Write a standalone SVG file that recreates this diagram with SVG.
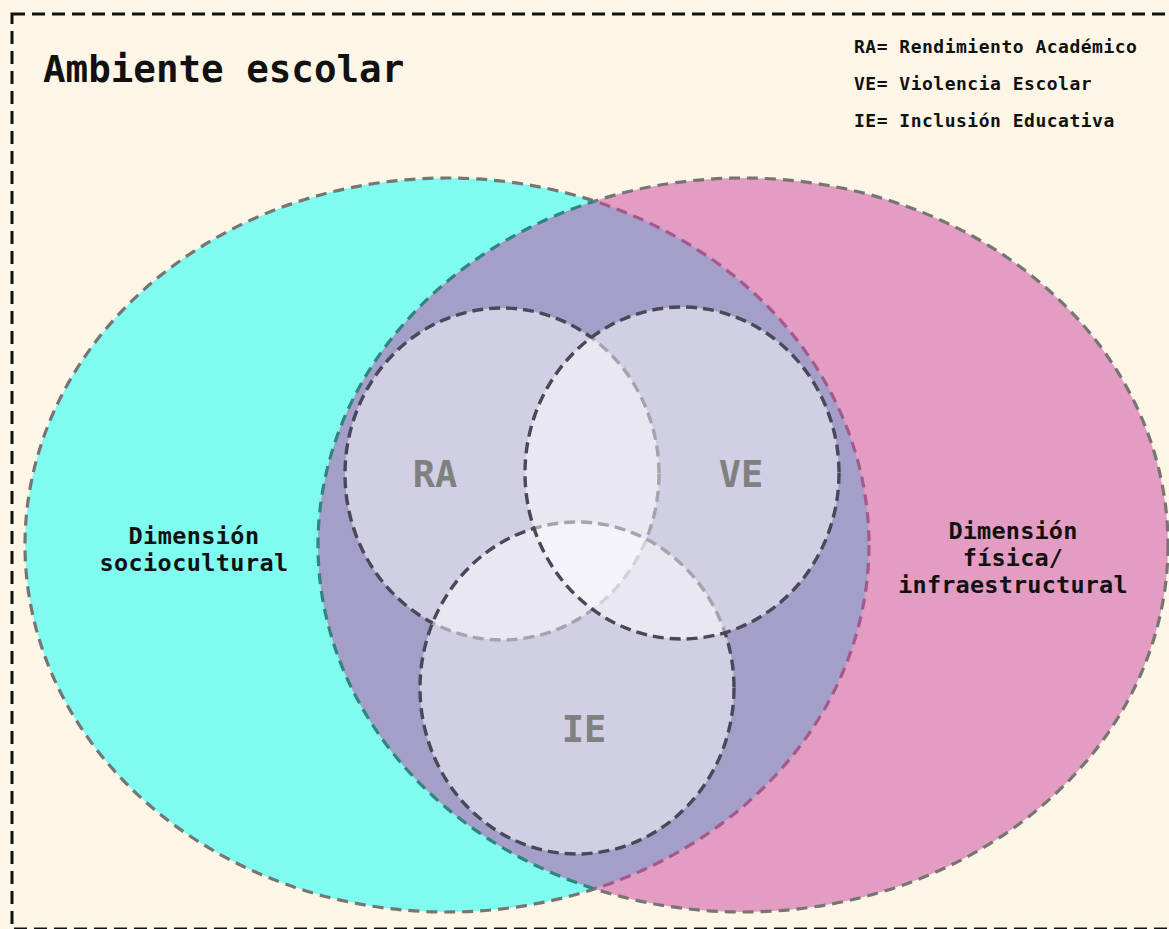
<svg xmlns="http://www.w3.org/2000/svg" width="1169" height="929" viewBox="0 0 1169 929">
<style>
.mono{font-family:"DejaVu Sans Mono","Liberation Mono",monospace;font-weight:bold;fill:#111;}
.big{stroke-width:3.2;stroke-dasharray:11 7;fill:none;}
.small{fill:#ffffff;fill-opacity:0.5;stroke:#4a4858;stroke-width:3.4;stroke-dasharray:11 6;}
.lbl{font-family:"DejaVu Sans Mono","Liberation Mono",monospace;font-weight:bold;fill:#808080;font-size:37px;text-anchor:middle;}
</style>
<defs>
<clipPath id="inPink"><ellipse cx="743" cy="545" rx="425" ry="367"/></clipPath>
<clipPath id="inCyan"><ellipse cx="447" cy="545" rx="422" ry="367"/></clipPath>
<clipPath id="outPink"><path clip-rule="evenodd" d="M-10,-10H1200V950H-10Z M318,545 a425,367 0 1,0 850,0 a425,367 0 1,0 -850,0Z"/></clipPath>
<clipPath id="outCyan"><path clip-rule="evenodd" d="M-10,-10H1200V950H-10Z M25,545 a422,367 0 1,0 844,0 a422,367 0 1,0 -844,0Z"/></clipPath>
</defs>
<rect width="1169" height="929" fill="#fdf6e7"/>
<rect x="12" y="14" width="1180" height="915" fill="none" stroke="#111" stroke-width="3" stroke-dasharray="13 7"/>
<text class="mono" x="43" y="82" font-size="37.5">Ambiente escolar</text>
<g id="legend" class="mono" font-size="18" letter-spacing="0.5">
<text x="854" y="53">RA= Rendimiento Académico</text>
<text x="854" y="90">VE= Violencia Escolar</text>
<text x="854" y="127">IE= Inclusión Educativa</text>
</g>
<g id="sociocultural">
<ellipse cx="447" cy="545" rx="422" ry="367" fill="#80fbf0"/>
</g>
<g id="fisica">
<ellipse cx="743" cy="545" rx="425" ry="367" fill="#e39cc2"/>
</g>
<g id="overlap">
<ellipse cx="447" cy="545" rx="422" ry="367" fill="#a39fc9" clip-path="url(#inPink)"/>
</g>
<g id="outlines">
<ellipse class="big" cx="447" cy="545" rx="422" ry="367" stroke="#777574" clip-path="url(#outPink)"/>
<ellipse class="big" cx="447" cy="545" rx="422" ry="367" stroke="#a4588c" clip-path="url(#inPink)"/>
<ellipse class="big" cx="743" cy="545" rx="425" ry="367" stroke="#777574" clip-path="url(#outCyan)"/>
<ellipse class="big" cx="743" cy="545" rx="425" ry="367" stroke="#2f857f" clip-path="url(#inCyan)"/>
</g>
<g id="RA"><ellipse class="small" cx="502" cy="474" rx="157" ry="166"/></g>
<g id="IE"><ellipse class="small" cx="577" cy="688" rx="157" ry="166"/></g>
<g id="VE"><ellipse class="small" cx="682" cy="473" rx="157" ry="166"/></g>
<text class="lbl" x="435" y="487">RA</text>
<text class="lbl" x="741" y="487">VE</text>
<text class="lbl" x="584" y="742">IE</text>
<text class="mono" font-size="23.5" letter-spacing="0.4" text-anchor="middle"><tspan x="194" y="544">Dimensión</tspan><tspan x="194" y="571">sociocultural</tspan></text>
<text class="mono" font-size="23.5" letter-spacing="0.2" text-anchor="middle"><tspan x="1013" y="539">Dimensión</tspan><tspan x="1013" y="566">física/</tspan><tspan x="1013" y="593">infraestructural</tspan></text>
</svg>
